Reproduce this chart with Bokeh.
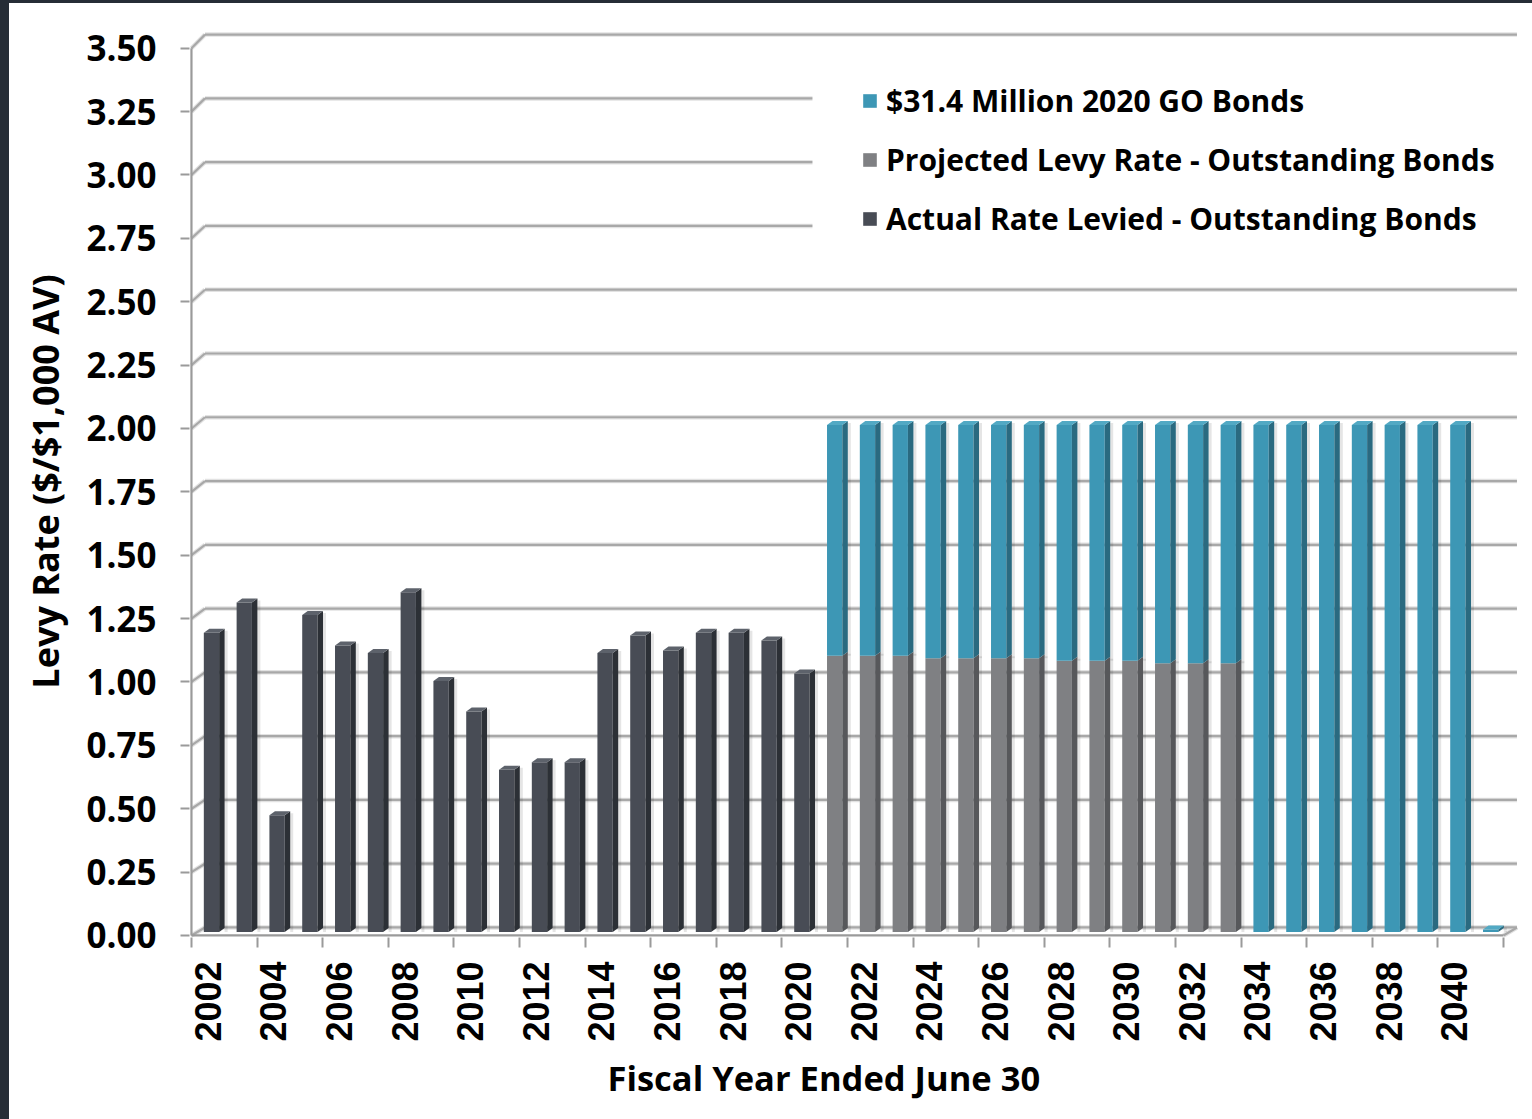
import math
from bokeh.plotting import figure
from bokeh.models import (FixedTicker, NumeralTickFormatter, Legend, LegendItem,
                          Title, Div, BoxAnnotation)
from bokeh.layouts import row, column
from bokeh.embed import file_html
from bokeh.resources import INLINE

# ---- data -------------------------------------------------------------
years = [2002, 2003, 2004, 2005, 2006, 2007, 2008, 2009, 2010, 2011,
         2012, 2013, 2014, 2015, 2016, 2017, 2018, 2019, 2020, 2021,
         2022, 2023, 2024, 2025, 2026, 2027, 2028, 2029, 2030, 2031,
         2032, 2033, 2034, 2035, 2036, 2037, 2038, 2039, 2040, 2041]

actual_years = [2002, 2003, 2004, 2005, 2006, 2007, 2008, 2009, 2010, 2011,
                2012, 2013, 2014, 2015, 2016, 2017, 2018, 2019, 2020]
actual_rate = [1.18, 1.30, 0.46, 1.25, 1.13, 1.10, 1.34, 0.99, 0.87, 0.64,
               0.67, 0.67, 1.10, 1.17, 1.11, 1.18, 1.18, 1.15, 1.02]

projected_years = [2021, 2022, 2023, 2024, 2025, 2026, 2027, 2028, 2029,
                   2030, 2031, 2032, 2033]
projected_rate = [1.09, 1.09, 1.09, 1.08, 1.08, 1.08, 1.08, 1.07, 1.07,
                  1.07, 1.06, 1.06, 1.06]

bond_years = [2021, 2022, 2023, 2024, 2025, 2026, 2027, 2028, 2029, 2030,
              2031, 2032, 2033, 2034, 2035, 2036, 2037, 2038, 2039, 2040,
              2041]
bond_rate = [0.91, 0.91, 0.91, 0.92, 0.92, 0.92, 0.92, 0.93, 0.93, 0.93,
             0.94, 0.94, 0.94, 2.00, 2.00, 2.00, 2.00, 2.00, 2.00, 2.00,
             0.01]

y_ticks = [0.0, 0.25, 0.5, 0.75, 1.0, 1.25, 1.5, 1.75, 2.0, 2.25, 2.5,
           2.75, 3.0, 3.25, 3.5]
year_labels = ["2002", "2004", "2006", "2008", "2010", "2012", "2014",
               "2016", "2018", "2020", "2022", "2024", "2026", "2028",
               "2030", "2032", "2034", "2036", "2038", "2040"]

legend_labels = ["$31.4 Million 2020 GO Bonds",
                 "Projected Levy Rate - Outstanding Bonds",
                 "Actual Rate Levied - Outstanding Bonds"]

# ---- styling / geometry -------------------------------------------------
FONT = "Open Sans"
DARK = ("#484c55", "#2c3036", "#5d626b")     # front, side, top
GREY = ("#7f8083", "#57585b", "#9a9b9e")
BLUE = ("#3d97b5", "#2a6a80", "#52a9c4")
GRID = "#a8a8a8"
AXIS = "#9a9a9a"
FRAME_BG = "#262d36"

PX_CAT = 32.8          # pixels per category
PX_UNIT = 253.5        # pixels per levy-rate unit
FRAME_W, FRAME_H = 1337, 912
x_start, y_start = -0.56, -0.008
x_end = x_start + FRAME_W / PX_CAT
y_end = y_start + FRAME_H / PX_UNIT

n_cat = len(years)
x_front0, x_front1 = -0.5, n_cat - 0.5
wall_dx = 13.5 / PX_CAT                       # depth of back wall (x)


def wall_dy(v):
    return (8.0 + 1.6 * v) / PX_UNIT          # depth of back wall (y)


bar_w = 15.3 / PX_CAT
bar_sx, bar_sy = 3.6 / PX_CAT, 3.5 / PX_UNIT  # bars sit mid-depth
bar_dx, bar_dy = 5.5 / PX_CAT, 4.0 / PX_UNIT  # bar thickness
shadow_w = 3.0 / PX_CAT

p = figure(width=1523, height=1116, output_backend="svg", toolbar_location=None,
           x_range=(x_start, x_end), y_range=(y_start, y_end),
           min_border_left=180, min_border_right=6, min_border_top=22,
           min_border_bottom=182)
p.outline_line_color = None
p.grid.visible = False
p.background_fill_color = "white"
p.border_fill_color = "white"

# ---- back wall gridlines and floor ----------------------------------------
gx0, gy0, gx1, gy1 = [], [], [], []
for v in y_ticks:
    bx = x_front0 + wall_dx
    by = v + wall_dy(v)
    gx0 += [x_front0, bx]
    gy0 += [v, by]
    gx1 += [bx, x_front1 + wall_dx]
    gy1 += [by, by]
# right edge of the floor
gx0.append(x_front1)
gy0.append(0.0)
gx1.append(x_front1 + wall_dx)
gy1.append(wall_dy(0.0))
p.segment(gx0, gy0, gx1, gy1, line_color="#e2e2e2", line_width=4.5)
p.segment(gx0, gy0, gx1, gy1, line_color=GRID, line_width=2.2)

# front axis lines
p.segment([x_front0, x_front0], [0.0, 0.0], [x_front1, x_front0],
          [0.0, y_ticks[-1]], line_color=AXIS, line_width=2.2)

# ---- 3-D columns ------------------------------------------------------------
def column_faces(year_list, bottoms, tops, colors, draw_top):
    fl, fr, fb, ft = [], [], [], []
    sxs, sys_, txs, tys = [], [], [], []
    for yr, b, t in zip(year_list, bottoms, tops):
        i = years.index(yr)
        xl = i + bar_sx - bar_w / 2
        xr = xl + bar_w
        yb, yt = b + bar_sy, t + bar_sy
        fl.append(xl); fr.append(xr); fb.append(yb); ft.append(yt)
        sxs.append([xr, xr + bar_dx, xr + bar_dx, xr])
        sys_.append([yb, yb + bar_dy, yt + bar_dy, yt])
        txs.append([xl, xl + bar_dx, xr + bar_dx, xr])
        tys.append([yt, yt + bar_dy, yt + bar_dy, yt])
    # soft drop shadow to the right of each column
    p.quad(left=[r + bar_dx for r in fr], right=[r + bar_dx + shadow_w for r in fr],
           bottom=fb, top=[t + bar_dy * 0.5 for t in ft],
           fill_color="black", fill_alpha=0.10, line_color=None)
    front = p.quad(left=fl, right=fr, bottom=fb, top=ft,
                   fill_color=colors[0], line_color=None)
    p.patches(sxs, sys_, fill_color=colors[1], line_color=None)
    if draw_top:
        p.patches(txs, tys, fill_color=colors[2], line_color=None)
    return front


dark_r = column_faces(actual_years, [0.0] * len(actual_rate), actual_rate,
                      DARK, True)
grey_r = column_faces(projected_years, [0.0] * len(projected_rate),
                      projected_rate, GREY, False)
bond_bottom = []
for yr in bond_years:
    bond_bottom.append(projected_rate[projected_years.index(yr)]
                       if yr in projected_years else 0.0)
bond_top = [b + v for b, v in zip(bond_bottom, bond_rate)]
blue_r = column_faces(bond_years, bond_bottom, bond_top, BLUE, True)

# ---- axes ---------------------------------------------------------------------
yax = p.yaxis[0]
yax.ticker = FixedTicker(ticks=y_ticks)
yax.formatter = NumeralTickFormatter(format="0.00")
yax.axis_line_color = None
yax.major_tick_in = 0
yax.major_tick_out = 9
yax.major_tick_line_color = AXIS
yax.major_tick_line_width = 2
yax.minor_tick_line_color = None
yax.major_label_standoff = 24
yax.major_label_text_font = FONT
yax.major_label_text_font_style = "bold"
yax.major_label_text_font_size = "35px"
yax.major_label_text_color = "black"
yax.axis_label = "Levy Rate ($/$1,000 AV)"
yax.axis_label_text_font = FONT
yax.axis_label_text_font_style = "bold"
yax.axis_label_text_font_size = "36px"
yax.axis_label_text_color = "black"
yax.axis_label_standoff = 13

label_pos = [years.index(int(s)) for s in year_labels]
xax = p.xaxis[0]
xax.ticker = FixedTicker(ticks=label_pos,
                         minor_ticks=[k - 0.5 for k in range(0, n_cat + 1, 2)])
xax.major_label_overrides = {k: s for k, s in zip(label_pos, year_labels)}
xax.axis_line_color = None
xax.major_tick_in = 0
xax.major_tick_out = 0
xax.minor_tick_in = 0
xax.minor_tick_out = 10
xax.minor_tick_line_color = AXIS
xax.minor_tick_line_width = 2
xax.major_label_orientation = math.pi / 2
xax.major_label_standoff = 14
xax.major_label_text_font = "Liberation Sans"
xax.major_label_text_font_style = "bold"
xax.major_label_text_font_size = "36px"
xax.major_label_text_color = "black"

p.add_layout(Title(text="Fiscal Year Ended June 30", align="left", offset=418,
                   text_font=FONT, text_font_style="bold",
                   text_font_size="34.5px", text_color="black", standoff=14),
             "below")

# ---- legend -------------------------------------------------------------------
# white panel behind the legend, hiding the gridlines it sits on
legend_panel = BoxAnnotation(left=x_front0 + (812 - 191) / PX_CAT, right=x_end,
                             bottom=(935 - 258) / PX_UNIT,
                             top=(935 - 62) / PX_UNIT,
                             fill_color="white", fill_alpha=1.0,
                             line_color=None)
p.add_layout(legend_panel)

legend = Legend(items=[LegendItem(label=legend_labels[0], renderers=[blue_r]),
                       LegendItem(label=legend_labels[1], renderers=[grey_r]),
                       LegendItem(label=legend_labels[2], renderers=[dark_r])],
                location=(672, 698), orientation="vertical",
                background_fill_color="white", background_fill_alpha=1.0,
                border_line_color=None, padding=22, spacing=17,
                glyph_width=17, glyph_height=17, label_height=42,
                label_standoff=8, label_text_font=FONT,
                label_text_font_style="bold", label_text_font_size="30px",
                label_text_color="black")
p.add_layout(legend)

top_band = Div(width=1532, height=3, margin=0,
               styles={"background-color": FRAME_BG})
left_band = Div(width=9, height=1116, margin=0,
                styles={"background-color": FRAME_BG})
page = column(top_band, row(left_band, p, spacing=0), spacing=0)

open("out.html", "w").write(file_html(page, INLINE))
